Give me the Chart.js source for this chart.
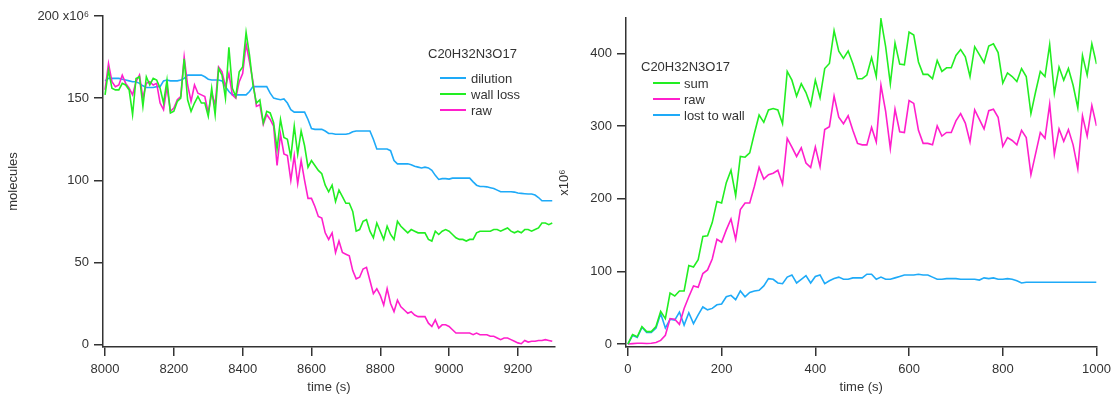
<!DOCTYPE html>
<html><head><meta charset="utf-8">
<script src="https://cdn.jsdelivr.net/npm/chart.js@4.4.1/dist/chart.umd.min.js"></script>
<style>
html,body{margin:0;padding:0;background:#fff;width:1117px;height:395px;overflow:hidden;font-family:"Liberation Sans",Arial,sans-serif;}
.wrap{position:absolute;top:0;}
.legend{position:absolute;left:0;top:0;font-size:13px;color:#333;}
.legend div{position:absolute;white-space:nowrap;line-height:15px;height:15px;}
.legend .sw{height:2px;line-height:2px;}
</style></head><body>
<div class="wrap" style="left:0;width:570px;height:395px"><canvas id="c1" width="570" height="395"></canvas></div>
<div class="wrap" style="left:552px;width:565px;height:395px"><canvas id="c2" width="565" height="395"></canvas></div>
<div id="leg1" class="legend"></div>
<div id="leg2" class="legend"></div>
<script>
// ---------- LEFT PANEL DATA ----------
const leftTitle = "C20H32N3O17";
const leftTime = [
8000,8010,8020,8030,8040,8050,8060,8070,8080,8090,
8100,8110,8120,8130,8140,8150,8160,8170,8180,8190,
8200,8210,8220,8230,8240,8250,8260,8270,8280,8290,
8300,8310,8320,8330,8340,8350,8360,8370,8380,8390,
8400,8410,8420,8430,8440,8450,8460,8470,8480,8490,
8500,8510,8520,8530,8540,8550,8560,8570,8580,8590,
8600,8610,8620,8630,8640,8650,8660,8670,8680,8690,
8700,8710,8720,8730,8740,8750,8760,8770,8780,8790,
8800,8810,8820,8830,8840,8850,8860,8870,8880,8890,
8900,8910,8920,8930,8940,8950,8960,8970,8980,8990,
9000,9010,9020,9030,9040,9050,9060,9070,9080,9090,
9100,9110,9120,9130,9140,9150,9160,9170,9180,9190,
9200,9210,9220,9230,9240,9250,9260,9270,9280,9290,
9300];
const leftDilution = [
160.5,162,162,162,162,161.5,161,160.5,160,160,159,157.5,156.5,156.5,156.5,157,157,160.5,161,160.5,
160.5,160.5,161,162,164,164,164,164,164,163,161.5,161,161,161,160.5,157,154,152,152,152,
152,152,154,157,157,157,157,157,153,
150,149.5,149,149.5,147,143,141.5,141.5,141.5,141.5,137,131.5,131,131,131,130,128.5,128.5,128,128,
128,128,128.5,129.5,130,130,130,130,130,125,119,119,119,119,118,112,110,110,110,110,
109.5,108.5,108,107.5,108,107.5,106,103,100.5,101,101,100.7,101.3,101.3,101.3,101.3,101.3,101.3,99,97,
96.2,96.2,96,95.5,95,94,93,93,93,93,92.8,92.2,92,91.8,91.6,91.6,91,89.5,87.5,87.5,
87.5,87.5];
const leftWallLoss = [
152,167,156,155,155,159,158,155,140,162,163,145,163,158,162,161,156,147,161,141,
142,148,150,174,149,142,147,151,147,147,139,156,140,168,164,150,181,156,151,166,
169,190,176,
158,147,149,135,142,141,135,119,137,126,125,114,133,116,130,121,108,112,109,106,
104,97,93,97,87,94,90,86,86,81,69,70,75,76,69,65,74,69,64,72,
67,64,75,72,70,68,
70,69,68,68,68,64,63,69,67,69,70,69,67,65,64,64,63,64,64,68,
69,69,69,69,70,70,69,70,71,69,68,69,68,70,70,69,70,71,74,74,
73,74];
const leftRaw = [
155,171,160,157,158,164,159,156,152,160,164,150,159,160,158,159,147,143,157,142,
144,149,151,175,158,148,158,153,152,151,141,153,146,169,166,157,165,152,150,160,
165,183,172,
160,145,146,134,140,137,133,109,128,116,115,100,115,98,112,100,89,89,84,78,
77,68,64,68,56,63,56,55,54,45,40,41,46,47,39,31,34,30,24,34,
25,20,27,23,21,19,
20,18,17,17,17,13,11,15,10,12,12,11,9,7,7,7,7,7,6,7,
6,6,6,5,5,4,3,4,4,3,2,1,0.5,2.5,1.5,2,2,2.5,2.5,3,
2.5,2];
const leftXTicks = [8000,8200,8400,8600,8800,9000,9200];
const leftYTicks = [0,50,100,150,200];

// ---------- RIGHT PANEL DATA ----------
const rightTitle = "C20H32N3O17";
const rightTime = [
0,10,20,30,40,50,60,70,80,90,
100,110,120,130,140,150,160,170,180,190,
200,210,220,230,240,250,260,270,280,290,
300,310,320,330,340,350,360,370,380,390,
400,410,420,430,440,450,460,470,480,490,
500,510,520,530,540,550,560,570,580,590,
600,610,620,630,640,650,660,670,680,690,
700,710,720,730,740,750,760,770,780,790,
800,810,820,830,840,850,860,870,880,890,
900,910,920,930,940,950,960,970,980,990,
1000];
const rightSum = [
0,13,10,24,17,17,24,45,35,70,66,73,73,108,106,116,148,149,167,196,
194,222,239,204,258,257,263,290,315,305,322,324,322,303,375,363,341,358,346,328,
363,
339,379,386,431,403,393,403,386,365,365,370,394,368,447,409,358,414,385,384,429,
425,388,371,371,365,390,375,380,380,397,405,395,368,409,398,387,410,413,401,359,
373,368,361,379,368,317,347,375,368,412,345,381,363,379,356,325,397,370,413,385];
const rightRaw = [
0,0.5,1,1,0.8,1,2,5,12,35,34,27,49,65,80,78,97,102,117,144,
140,157,172,144,185,194,194,217,243,227,233,235,239,220,283,271,258,270,249,243,
271,
244,295,299,341,312,303,314,294,276,274,274,298,278,356,320,269,323,292,291,335,
331,294,276,276,274,300,286,291,291,307,317,304,278,322,309,296,321,323,312,272,
284,280,274,294,284,233,262,291,283,330,261,296,279,295,274,241,314,286,328,300];
const rightLost = [
0,12,9,23,16,16,22,42,22,34,33,44,26,43,28,40,51,47,49,54,
55,65,67,61,73,65,71,73,74,80,90,89,84,83,92,95,84,89,94,84,
93,
95,83,87,90,92,89,89,91,91,91,96,96,89,92,89,89,91,93,95,95,
95,96,95,95,92,89,89,90,90,90,89,89,89,89,88,91,90,91,89,89,
90,89,87,84,85,85,85,85,85,85,85,85,85,85,85,85,85,85,85,85];
const rightXTicks = [0,200,400,600,800,1000];
const rightYTicks = [0,100,200,300,400];

// ---------- STYLE ----------
const BLUE = '#1eaaf8', GREEN = '#22ee22', MAGENTA = '#ff1fcc', AX = '#333333';
Chart.defaults.font.family = '"Liberation Sans", Arial, sans-serif';
Chart.defaults.font.size = 13;
Chart.defaults.color = AX;

function pts(xs, ys){ return xs.map((x,i)=>({x:x, y:ys[i]})); }
function ds(label, xs, ys, color, order){
  return {label, data: pts(xs, ys), borderColor: color, backgroundColor: color,
    borderWidth: 1.6, pointRadius: 0, tension: 0, fill: false, order};
}
function axis(opts){
  return Object.assign({
    type: 'linear',
    border: {display: true, color: AX, width: 1.5},
    grid: {display: true, drawOnChartArea: false, drawTicks: true, tickLength: 9, color: AX, lineWidth: 1.5},
  }, opts);
}

function makeChart(id, datasets, cfg){
  return new Chart(document.getElementById(id), {
    type: 'line',
    data: {datasets},
    options: {
      responsive: false, animation: false, devicePixelRatio: 1,
      layout: {padding: cfg.padding},
      plugins: {legend: {display: false}, tooltip: {enabled: false}},
      scales: {
        x: axis({
          position: 'bottom', min: cfg.xmin, max: cfg.xmax,
          afterBuildTicks: s => { s.ticks = cfg.xticks.map(v => ({value: v})); },
          afterFit: s => { s.height = cfg.xh; },
          ticks: {padding: 6, maxRotation: 0, autoSkip: false, color: AX, callback: v => String(v)},
          title: {display: true, text: 'time (s)', color: AX, font: {size: 13}, padding: {top: 0, bottom: 0}}
        }),
        y: axis({
          position: 'left', min: cfg.ymin, max: cfg.ymax,
          afterBuildTicks: s => { s.ticks = cfg.yticks.map(v => ({value: v})); },
          afterFit: s => { s.width = cfg.yw; },
          ticks: {padding: 5, autoSkip: false, color: AX, callback: cfg.ylabel},
          title: {display: true, text: cfg.ytitle, color: AX, font: {size: 13}, padding: {top: cfg.ytitlePad, bottom: 0}}
        })
      }
    }
  });
}

const chart1 = makeChart('c1', [
  ds('dilution', leftTime, leftDilution, BLUE, 2),
  ds('wall loss', leftTime, leftWallLoss, GREEN, 0),
  ds('raw', leftTime, leftRaw, MAGENTA, 1)
], {
  padding: {left: 0, right: 15, top: 16, bottom: 0},
  xmin: 7994, xmax: 9308, ymin: -1.5, ymax: 200,
  xticks: leftXTicks, yticks: leftYTicks, xh: 48, yw: 103,
  ytitle: 'molecules', ytitlePad: 6,
  ylabel: v => v === 200 ? '200 x10\u2076' : String(v)
});

const chart2 = makeChart('c2', [
  ds('sum', rightTime, rightSum, GREEN, 0),
  ds('raw', rightTime, rightRaw, MAGENTA, 1),
  ds('lost to wall', rightTime, rightLost, BLUE, 2)
], {
  padding: {left: 0, right: 15, top: 18, bottom: 0},
  xmin: -4, xmax: 1000, ymin: -4.1, ymax: 448.5,
  xticks: rightXTicks, yticks: rightYTicks, xh: 48, yw: 74,
  ytitle: 'x10\u2076', ytitlePad: 5,
  ylabel: v => String(v)
});

// ---------- HTML LEGENDS built from the chart datasets ----------
function buildLegend(elId, chart, title, pos){
  const el = document.getElementById(elId);
  let html = '<div style="left:' + pos.titleX + 'px;top:' + (pos.titleY - 7.5) + 'px">' + title + '</div>';
  chart.data.datasets.forEach((d, i) => {
    const cy = pos.rowY + i * pos.rowStep;
    html += '<div class="sw" style="left:' + pos.swX + 'px;top:' + (cy - 1) + 'px;width:' + pos.swW + 'px;background:' + d.borderColor + '"></div>';
    html += '<div style="left:' + pos.textX + 'px;top:' + (cy - 7.5) + 'px">' + d.label + '</div>';
  });
  el.innerHTML = html;
}
buildLegend('leg1', chart1, leftTitle, {titleX: 428, titleY: 53, rowY: 78, rowStep: 16, swX: 440, swW: 26, textX: 471});
buildLegend('leg2', chart2, rightTitle, {titleX: 641, titleY: 66, rowY: 83, rowStep: 16, swX: 653, swW: 27, textX: 684});
</script>
</body></html>
